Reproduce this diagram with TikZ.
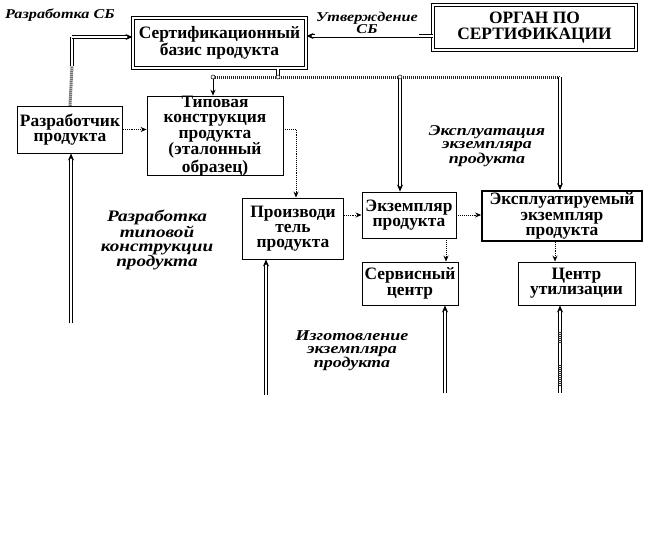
\documentclass[tikz,border=0pt]{standalone}
\usepackage{fontspec}
\setmainfont{Liberation Serif}
\newfontfamily\labfam[FakeStretch=1.2]{Liberation Serif}
\usetikzlibrary{arrows.meta,calc}
\begin{document}
\begin{tikzpicture}[x=1pt,y=-1pt,
  box/.style={draw, line width=0.9pt, align=center, inner sep=0pt,
    font=\fontsize{17.4}{15.3}\selectfont\bfseries},
  dbox/.style={box, double, double distance=1.6pt, line width=1pt},
  lab/.style={align=center, inner sep=1pt,
    font=\labfam\bfseries\itshape\fontsize{15}{13.5}\selectfont},
  dbl/.style={double, double distance=2pt, line width=0.8pt},
  dblarrow/.style={dbl, -{Stealth[length=7pt,width=6pt]}},
  dotarrow/.style={densely dotted, line width=0.9pt, -{Stealth[length=6pt,width=5pt]}},
  hatch/.style={line width=3pt, dash pattern=on 1pt off 1pt, black!85},
  junc/.style={circle, draw, fill=white, inner sep=0pt, minimum size=4pt, line width=0.5pt}
]
\useasboundingbox (0,0) rectangle (647,541);

% boxes
\node[dbox, minimum width=173, minimum height=50] (sb) at (219.5,43) {Сертификационный\\базис продукта};
\node[dbox, minimum width=203, minimum height=45] (organ) at (534.5,27.5) {ОРГАН ПО\\СЕРТИФИКАЦИИ};
\node[box, minimum width=105, minimum height=47] (razr) at (70,129.5) {Разработчик\\продукта};
\node[box, minimum width=136, minimum height=76] (tip) at (215,136) {Типовая\\конструкция\\продукта\\(эталонный\\образец)};
\node[box, minimum width=101, minimum height=61] (proizv) at (293,228.5) {Производи\\тель\\продукта};
\node[box, minimum width=94, minimum height=46] (ekz) at (409,215) {Экземпляр\\продукта};
\node[box, line width=1.8pt, minimum width=160, minimum height=50] (expl) at (562,216) {Эксплуатируемый\\экземпляр\\продукта};
\node[box, minimum width=96, minimum height=43] (serv) at (410,283.5) {Сервисный\\центр};
\node[box, minimum width=117, minimum height=43] (util) at (576.5,283.5) {Центр\\утилизации};

% labels
\node[lab, anchor=west, font=\labfam\bfseries\itshape\fontsize{13.5}{12}\selectfont] (lsb) at (4,15) {Разработка СБ};

% Organ -> SB
\coordinate (ay) at (0,36);
\draw[dblarrow] (organ.west |- ay) -- (sb.east |- ay);
\node[lab, fill=white, font=\labfam\bfseries\itshape\fontsize{13.5}{12}\selectfont] (lut) at (367,23) {Утверждение\\СБ};

% Razr -> SB
\coordinate (rt) at (72,37);
\coordinate (rh) at (72,66);
\draw[hatch] (razr.north) -- (rh);
\draw[dbl] (rh) -- (rt);
\draw[dblarrow] (rt) -- (sb.west |- rt);

% bus
\coordinate (b1) at (213,77);
\coordinate (b2) at (278,77);
\coordinate (b3) at (400,77);
\coordinate (b4) at (560,77);
\draw[dbl] (sb.south -| b2) -- (b2);
\draw[hatch] (b1) -- (b4);
\draw[line width=0.9pt, -{Stealth[length=6pt,width=5pt]}] (b1) -- (b1 |- tip.north);
\draw[dblarrow] (b3) -- (b3 |- ekz.north);
\draw[dblarrow] (b4) -- (b4 |- expl.north);
\node[junc] (j1) at (b1) {};
\node[junc] (j2) at (b2) {};
\node[junc] (j3) at (b3) {};

% dotted flow
\draw[dotarrow] (razr.east) -- (razr.east -| tip.west);
\draw[dotarrow] ([yshift=7pt]tip.east) -| ([xshift=3pt]proizv.north);
\draw[dotarrow] (ekz.west -| proizv.east) -- (ekz.west);
\draw[dotarrow] (ekz.east) -- (ekz.east -| expl.west);
\draw[dotarrow] ([xshift=37pt]ekz.south) -- ([xshift=36pt]serv.north);
\draw[dotarrow] ([xshift=-7pt]expl.south) -- ([xshift=-21.5pt]util.north);

% inputs from below
\coordinate (u1) at (71,323);
\coordinate (u2) at (266,395);
\coordinate (u3) at (445,393);
\coordinate (u4) at (560,393);
\draw[dblarrow] (u1) -- (u1 |- razr.south);
\draw[dblarrow] (u2) -- (u2 |- proizv.south);
\draw[dblarrow] (u3) -- (u3 |- serv.south);
\draw[dblarrow] (u4) -- (u4 |- util.south);
\draw[hatch, line width=3.6pt] (560,332) -- (560,344);
\draw[hatch, line width=3.6pt] (560,365) -- (560,386);

% italic labels
\node[lab, font=\labfam\bfseries\itshape\fontsize{16}{14}\selectfont] (l1) at (157,240) {Разработка\\типовой\\конструкции\\продукта};
\node[lab, font=\labfam\bfseries\itshape\fontsize{15}{12.5}\selectfont] (l2) at (352,351) {Изготовление\\экземпляра\\продукта};
\node[lab] (l3) at (487,146) {Эксплуатация\\экземпляра\\продукта};
\end{tikzpicture}
\end{document}
